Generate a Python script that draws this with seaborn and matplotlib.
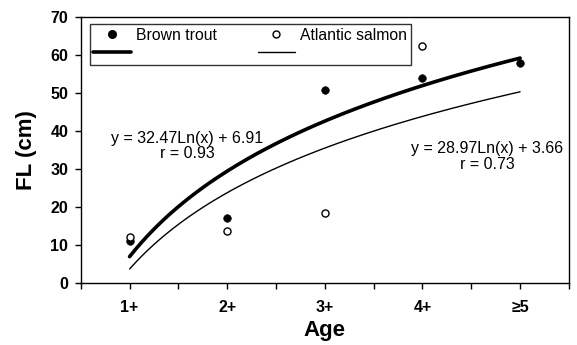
import numpy as np
import matplotlib
matplotlib.use("Agg")
import matplotlib.pyplot as plt
from matplotlib.lines import Line2D
import seaborn as sns

# data
age_labels = ['1+', '2+', '3+', '4+', '≥5']
age_pos = [1, 2, 3, 4, 5]
trout_fl = [11.0, 17.0, 50.8, 53.9, 58.0]
salmon_pos = [1, 2, 3, 4]
salmon_fl = [12.2, 13.7, 18.5, 62.4]

# logarithmic fits printed on the chart: y = a*Ln(x) + b
trout_fit = (32.47, 6.91)
salmon_fit = (28.97, 3.66)

sns.set_style("ticks")
plt.rcParams['font.family'] = ['Liberation Sans', 'DejaVu Sans']
plt.rcParams['text.color'] = 'black'
plt.rcParams['axes.labelcolor'] = 'black'

fig = plt.figure(figsize=(5.77, 3.45), dpi=100)
ax = fig.add_axes([0.140, 0.180, 0.846, 0.771])

xs = np.linspace(1, 5, 200)
sns.lineplot(x=xs, y=trout_fit[0] * np.log(xs) + trout_fit[1], color='black', linewidth=2.6, ax=ax)
sns.lineplot(x=xs, y=salmon_fit[0] * np.log(xs) + salmon_fit[1], color='black', linewidth=1.0, ax=ax)

sns.scatterplot(x=age_pos, y=trout_fl, color='black', edgecolor='black', s=30, ax=ax, zorder=3)
sns.scatterplot(x=salmon_pos, y=salmon_fl, facecolor='white', edgecolor='black', linewidth=1.0, s=26, ax=ax, zorder=3)

ax.set_xlim(0.5, 5.5)
ax.set_ylim(0, 70)
ax.set_xticks(age_pos)
ax.set_xticklabels(age_labels)
ax.set_xticks([0.5, 1.5, 2.5, 3.5, 4.5, 5.5], minor=True)
ax.set_yticks(range(0, 71, 10))
ax.tick_params(axis='both', which='both', direction='out', length=4, width=1, colors='black', labelsize=11.5)
ax.tick_params(axis='x', which='major', pad=8)
ax.tick_params(axis='y', which='major', pad=5)
for lab in ax.get_xticklabels() + ax.get_yticklabels():
    lab.set_fontweight('bold')
for sp in ax.spines.values():
    sp.set_visible(True)
    sp.set_color('black')
    sp.set_linewidth(1.0)

ax.set_xlabel('Age', fontsize=16, fontweight='bold', labelpad=4)
ax.set_ylabel('FL (cm)', fontsize=16, fontweight='bold', labelpad=10)

ax.text(1.59, 36.0, 'y = 32.47Ln(x) + 6.91\nr = 0.93', ha='center', va='center',
        fontsize=11.5, linespacing=1.05, color='black')
ax.text(4.66, 33.3, 'y = 28.97Ln(x) + 3.66\nr = 0.73', ha='center', va='center',
        fontsize=11.5, linespacing=1.05, color='black')

handles = [
    Line2D([], [], marker='o', linestyle='none', markerfacecolor='black', markeredgecolor='black', markersize=5.5),
    Line2D([], [], color='black', linewidth=2.6),
    Line2D([], [], marker='o', linestyle='none', markerfacecolor='white', markeredgecolor='black', markersize=5),
    Line2D([], [], color='black', linewidth=1.0),
]
labels = ['Brown trout', '', 'Atlantic salmon', '']
leg = ax.legend(handles, labels, ncol=2, loc='upper left', bbox_to_anchor=(0.018, 0.974),
                borderaxespad=0, frameon=True, fancybox=False, fontsize=11.3,
                handlelength=2.4, columnspacing=2.6, handletextpad=0.3,
                borderpad=0.25, labelspacing=0.2)
leg.get_frame().set_edgecolor('black')
leg.get_frame().set_linewidth(1.0)
for t in leg.get_texts():
    t.set_color('black')

fig.savefig('out.png', dpi=100)
